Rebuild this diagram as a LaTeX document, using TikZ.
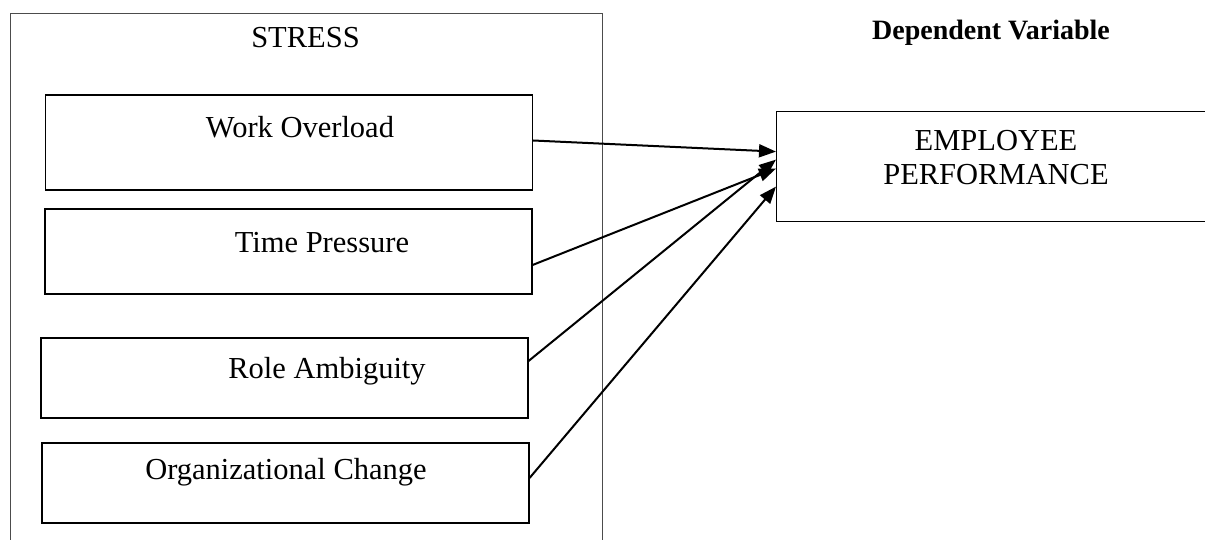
\documentclass[tikz,border=0pt]{standalone}
\usepackage{fontspec}
\setmainfont{Liberation Serif}
\usetikzlibrary{arrows.meta, positioning}
\tikzset{
  framebox/.style={rectangle, draw=black!70, line width=1.2pt},
  factor/.style={rectangle, draw=black, line width=1.1pt,
    minimum width=487pt, inner sep=0pt},
  lbl/.style={font=\fontsize{30.5}{34}\selectfont, inner sep=0pt, anchor=base},
  arrow/.style={-{Triangle[length=17pt, width=13pt]}, line width=2pt, black}
}
\begin{document}
\begin{tikzpicture}[x=1pt, y=-1pt]
  \useasboundingbox (0,0) rectangle (1205,540);
  \clip (0,0) rectangle (1205,540);

  % Stress frame (runs past the bottom edge)
  \node[framebox, minimum width=592.5pt, minimum height=547pt, anchor=north west] (stress) at (9.5,13) {};
  \node[lbl] (stresslbl) at (305.5,48) {STRESS};

  % Stress factors
  \node[factor, minimum height=95pt] (wo) at (289,142.5) {};
  \node[lbl] (wolbl) at (300,138) {Work Overload};
  \node[factor, minimum height=85pt] (tp) at (288.5,251.5) {};
  \node[lbl] (tplbl) at (322,253) {Time Pressure};
  \node[factor, minimum height=80pt] (ra) at (284.5,378) {};
  \node[lbl] (ralbl) at (327,378) {Role Ambiguity};
  \node[factor, minimum height=80pt] (oc) at (285.5,483) {};
  \node[lbl] (oclbl) at (286,479) {Organizational Change};

  % Dependent variable
  \node[lbl, font=\fontsize{28}{34}\selectfont\bfseries] (dvlbl) at (991,40) {Dependent Variable};
  \node[framebox, draw=black, minimum width=440pt, minimum height=110pt, anchor=north west] (perf) at (776,111) {};
  \node[lbl, align=center] (perflbl) at (996,185) {EMPLOYEE\\PERFORMANCE};

  % Arrows
  \draw[arrow] ([yshift=2pt]wo.east) -- ([yshift=15pt]perf.west);
  \draw[arrow] ([yshift=-13.5pt]tp.east) -- ([yshift=-2pt]perf.west);
  \draw[arrow] ([yshift=17pt]ra.east) -- ([yshift=7pt]perf.west);
  \draw[arrow] ([yshift=5pt]oc.east) -- ([yshift=-20pt]perf.west);
\end{tikzpicture}
\end{document}
